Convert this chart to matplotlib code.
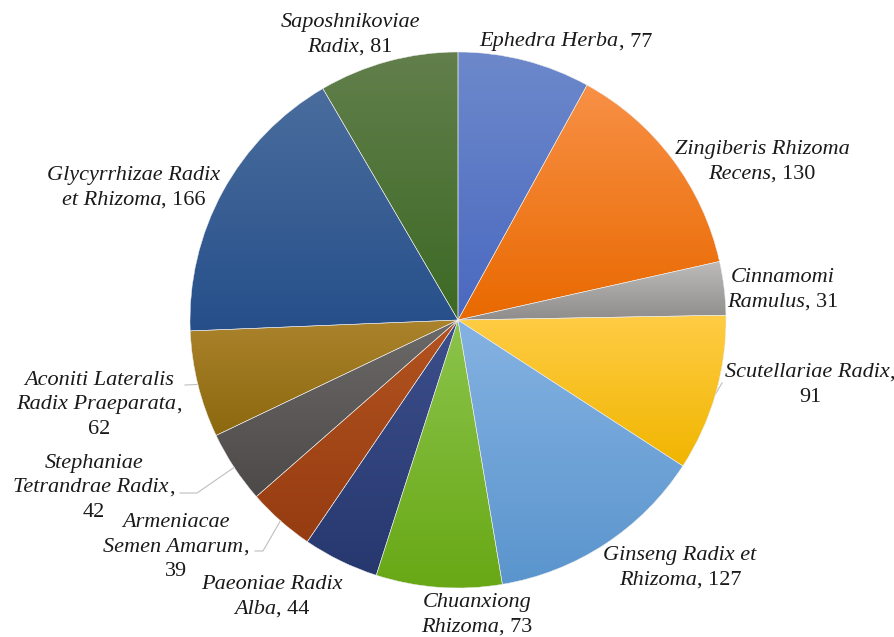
import numpy as np
import matplotlib
matplotlib.use("Agg")
import matplotlib.pyplot as plt
from matplotlib.colors import to_rgb
from matplotlib.offsetbox import TextArea, HPacker, VPacker, AnnotationBbox

# ---------------- data (clockwise from 12 o'clock)
names = ["Ephedra Herba", "Zingiberis Rhizoma\nRecens", "Cinnamomi\nRamulus",
         "Scutellariae Radix", "Ginseng Radix et\nRhizoma", "Chuanxiong\nRhizoma",
         "Paeoniae Radix\nAlba", "Armeniacae\nSemen Amarum",
         "Stephaniae\nTetrandrae Radix", "Aconiti Lateralis\nRadix Praeparata",
         "Glycyrrhizae Radix\net Rhizoma", "Saposhnikoviae\nRadix"]
values = [77, 130, 31, 91, 127, 73, 44, 39, 42, 62, 166, 81]
# number goes on its own line for these labels
num_newline = [False, False, False, True, False, False, False, True, True, True, False, False]

# gradient colours (top, bottom) for each slice
top_cols = ["#6d89cb", "#f89046", "#bdbcbb", "#ffcd45", "#85b2e2", "#8cc44c",
            "#3d4f8c", "#b3531f", "#6c6a69", "#ab832c", "#4a6d9d", "#627f4c"]
bot_cols = ["#4a68c0", "#e96900", "#8f8d8c", "#f1b500", "#5a95cd", "#68a815",
            "#27386f", "#963c12", "#4c4948", "#8c680e", "#264f8a", "#3c6924"]

# ---------------- layout (pixels of the 895x637 picture)
W, H = 895, 637
cx, cy, R = 458, 320, 268

def px(x, y):
    # pixel position -> data units (pie centre = 0,0 ; radius = 1)
    return (x - cx) / R, (cy - y) / R

label_pos = [(566, 42), (762, 162), (783, 290), (810, 385), (680, 568), (477, 615),
             (272, 597), (176, 547), (94, 488), (99, 405), (134, 188), (350, 35)]
# leader lines: index -> pixel points after the point on the rim
leaders = {3: [(722, 383)], 7: [(263, 551), (255, 551)],
           8: [(197, 493), (180, 493)], 9: [(185, 385)]}

fig = plt.figure(figsize=(W / 100, H / 100), dpi=100)
ax = fig.add_axes([0, 0, 1, 1])

wedges, _ = ax.pie(values, startangle=90, counterclock=False, radius=1,
                   wedgeprops=dict(edgecolor="#ececec", linewidth=0.35))

for w, ct, cb in zip(wedges, top_cols, bot_cols):
    ext = w.get_path().get_extents()
    t = np.linspace(0, 1, 200)[:, None]
    grad = (1 - t) * np.array(to_rgb(cb)) + t * np.array(to_rgb(ct))
    grad = grad[:, None, :]
    ax.imshow(grad, extent=[ext.x0, ext.x1, ext.y0, ext.y1], origin="lower",
              aspect="auto", interpolation="bilinear", clip_path=w, zorder=0)
    w.set_facecolor("none")

# ---------------- labels
font = "Liberation Serif"
fs = 16
ital = dict(family=font, style="italic", size=fs, color="#1a1a1a")
rom = dict(family=font, style="normal", size=fs, color="#1a1a1a")

for i, (nm, v) in enumerate(zip(names, values)):
    lines = nm.split("\n")
    rows = []
    for k, ln in enumerate(lines):
        parts = [TextArea(ln, textprops=ital)]
        if k == len(lines) - 1:
            if num_newline[i]:
                parts.append(TextArea(",", textprops=rom))
            else:
                parts.append(TextArea(", " + str(v), textprops=rom))
        rows.append(HPacker(children=parts, align="baseline", pad=0, sep=0))
    if num_newline[i]:
        rows.append(TextArea(str(v), textprops=rom))
    box = VPacker(children=rows, align="center", pad=0, sep=4)
    ab = AnnotationBbox(box, px(*label_pos[i]), xycoords="data", frameon=False,
                        box_alignment=(0.5, 0.5), pad=0)
    ax.add_artist(ab)

# leader lines from slice rim
cum = np.cumsum(values) - np.array(values) / 2
for i, pts in leaders.items():
    ang = np.deg2rad(90 - cum[i] / sum(values) * 360)
    xs = [np.cos(ang)] + [px(*p)[0] for p in pts]
    ys = [np.sin(ang)] + [px(*p)[1] for p in pts]
    ax.plot(xs, ys, color="#bfbfbf", lw=0.8, zorder=0.5)

ax.set_xlim(px(0, 0)[0], px(W, 0)[0])
ax.set_ylim(px(0, H)[1], px(0, 0)[1])
ax.set_aspect("auto")
ax.axis("off")

fig.savefig("out.png", dpi=100, facecolor="white")
